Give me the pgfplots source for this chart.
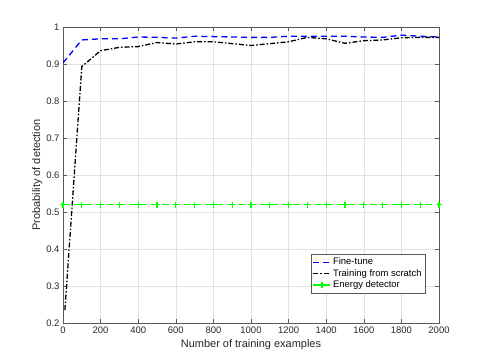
\documentclass[border=0pt]{standalone}
\usepackage{pgfplots}
\pgfplotsset{compat=1.18}
\usepackage{fontspec}
\setmainfont{Liberation Sans}
\definecolor{axgray}{RGB}{38,38,38}
\definecolor{gridgray}{RGB}{225,225,225}
\begin{document}
\begin{tikzpicture}
\useasboundingbox (0,0) rectangle (485bp,363bp);
\begin{axis}[
  at={(63bp,40bp)}, anchor=south west,
  scale only axis, width=376bp, height=296bp,
  xmin=0, xmax=2000, ymin=0.2, ymax=1,
  xtick={0,200,...,2000},
  ytick={0.2,0.3,...,1.0},
  yticklabels={0.2,0.3,0.4,0.5,0.6,0.7,0.8,0.9,1},
  xticklabel style={/pgf/number format/.cd,1000 sep={}},
  /pgf/number format/assume math mode=true,
  scaled x ticks=false,
  grid=major,
  major grid style={gridgray, line width=0.5pt},
  axis line style={gray!70!black, line width=0.6pt},
  tick style={gray!70!black, line width=0.5pt},
  tick align=inside,
  major tick length=4bp,
  every tick label/.append style={font=\fontsize{9.5}{11}\selectfont, text=axgray},
  xlabel={Number of training examples},
  ylabel={Probability of detection},
  label style={font=\fontsize{11}{13}\selectfont, text=axgray},
  xlabel style={yshift=1bp},
  ylabel style={yshift=-3bp},
  legend pos=south east,
  legend style={at={(0.965,0.1)}, anchor=south east, font=\fontsize{9.5}{11}\selectfont, draw=gray!70!black, line width=0.5pt, row sep=-1pt, inner sep=2pt},
  legend cell align=left,
]
\addplot[blue, dashed, line width=1.3pt, dash pattern=on 6pt off 4pt] coordinates {
(0,0.903) (100,0.965) (200,0.968) (300,0.968) (400,0.973) (500,0.972) (600,0.970) (700,0.975) (800,0.974) (900,0.973) (1000,0.972) (1100,0.972) (1200,0.975) (1300,0.975) (1400,0.975) (1500,0.975) (1600,0.973) (1700,0.972) (1800,0.978) (1900,0.975) (2000,0.973)
};
\addlegendentry{Fine-tune}
\addplot[black, line width=1.3pt, dash pattern=on 5pt off 2pt on 1.5pt off 2pt] coordinates {
(10,0.235) (100,0.893) (200,0.936) (300,0.945) (400,0.947) (500,0.958) (600,0.954) (700,0.960) (800,0.960) (900,0.955) (1000,0.950) (1100,0.955) (1200,0.960) (1300,0.972) (1400,0.968) (1500,0.956) (1600,0.963) (1700,0.965) (1800,0.971) (1900,0.972) (2000,0.972)
};
\addlegendentry{Training from scratch}
\addplot[green, line width=1.3pt, dash pattern=on 7pt off 4pt, mark=+, mark size=3pt, mark options={solid, line width=1.3pt}] coordinates {
(0,0.52) (100,0.52) (200,0.52) (300,0.52) (400,0.52) (500,0.52) (600,0.52) (700,0.52) (800,0.52) (900,0.52) (1000,0.52) (1100,0.52) (1200,0.52) (1300,0.52) (1400,0.52) (1500,0.52) (1600,0.52) (1700,0.52) (1800,0.52) (1900,0.52) (2000,0.52)
};
\addlegendentry{Energy detector}
\end{axis}
\end{tikzpicture}
\end{document}
